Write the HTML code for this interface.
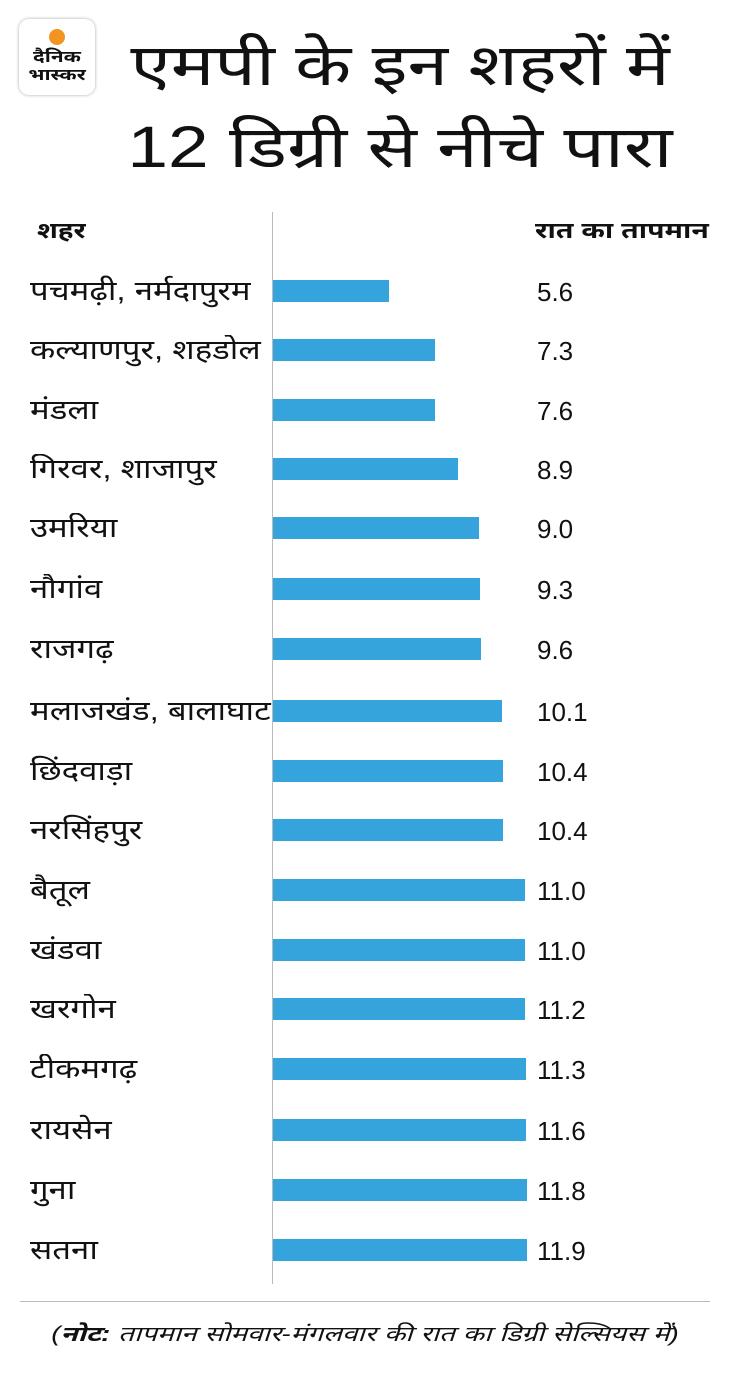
<!DOCTYPE html>
<html><head><meta charset="utf-8"><style>
body{margin:0;width:730px;height:1381px;background:#fff;position:relative;font-family:"Liberation Sans","Noto Sans Devanagari","Lohit Devanagari",sans-serif;color:#111;overflow:hidden}
.a{position:absolute;white-space:nowrap}
.logo{position:absolute;left:19px;top:19px;width:76px;height:76px;border-radius:10px;background:#fff;box-shadow:0 0 3px rgba(0,0,0,.35)}
.dot{position:absolute;left:30px;top:10px;width:16px;height:16px;border-radius:50%;background:#f39321}
.bar{position:absolute;left:273px;height:22px;background:#35a3dc}
.lab{position:absolute;left:30px;font-size:27px;line-height:30px;transform:scaleX(1.22);transform-origin:0 0;white-space:nowrap}
.val{position:absolute;left:537px;font-size:26px;line-height:30px}
</style></head><body>
<div class="logo"><div class="dot"></div>
<div class="a" style="left:0;width:76px;text-align:center;top:30px;font-size:16px;font-weight:bold;line-height:18px;transform:scaleX(1.3)">दैनिक<br>भास्कर</div></div>
<div class="a" style="left:110px;width:580px;text-align:center;top:25px;font-size:58px;line-height:82px;transform:scaleX(1.26)">एमपी के इन शहरों में<br>12 डिग्री से नीचे पारा</div>
<div class="a" style="left:37px;top:218px;font-size:22px;font-weight:bold;transform:scaleX(1.25);transform-origin:0 0">शहर</div>
<div class="a" style="left:535px;top:218px;font-size:22px;font-weight:bold;transform:scaleX(1.29);transform-origin:0 0">रात का तापमान</div>
<div class="a" style="left:272px;top:212px;width:1px;height:1072px;background:#bbb"></div>
<div class="a" style="left:20px;top:1301px;width:690px;height:1px;background:#bbb"></div>
<div class="a" style="left:0;width:730px;text-align:center;top:1322px;font-size:21px;font-style:italic;transform:scaleX(1.33)">(<b>नोट:</b> तापमान सोमवार-मंगलवार की रात का डिग्री सेल्सियस में)</div>
<div id="rows"></div>
<script>
var d=[["पचमढ़ी, नर्मदापुरम","5.6",389,291],["कल्याणपुर, शहडोल","7.3",435,350],["मंडला","7.6",435,410],["गिरवर, शाजापुर","8.9",458,469],["उमरिया","9.0",479,528],["नौगांव","9.3",480,589],["राजगढ़","9.6",481,649],["मलाजखंड, बालाघाट","10.1",502,711],["छिंदवाड़ा","10.4",503,771],["नरसिंहपुर","10.4",503,830],["बैतूल","11.0",525,890],["खंडवा","11.0",525,950],["खरगोन","11.2",525,1009],["टीकमगढ़","11.3",526,1069],["रायसेन","11.6",526,1130],["गुना","11.8",527,1190],["सतना","11.9",527,1250]];
var h="";d.forEach(function(r){h+='<div class="lab" style="top:'+(r[3]-15)+'px">'+r[0]+'</div><div class="bar" style="top:'+(r[3]-11)+'px;width:'+(r[2]-273)+'px"></div><div class="val" style="top:'+(r[3]-14)+'px">'+r[1]+'</div>';});
document.getElementById("rows").innerHTML=h;
</script>
</body></html>
